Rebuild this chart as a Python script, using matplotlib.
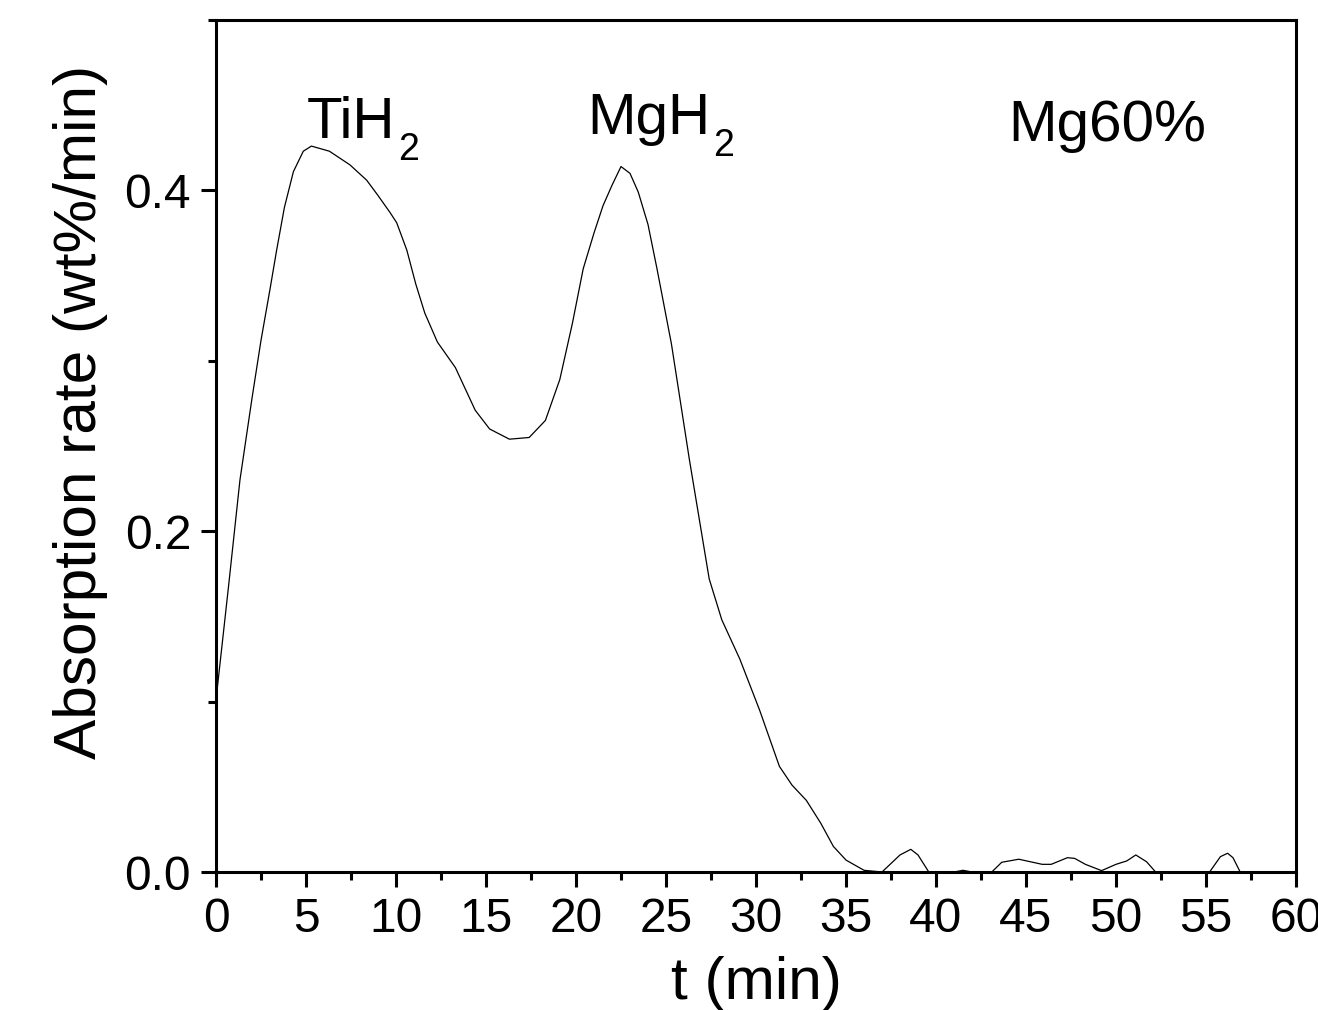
import matplotlib
matplotlib.use("Agg")
import matplotlib.pyplot as plt
from matplotlib.ticker import MultipleLocator

plt.rcParams['font.family'] = ['Liberation Sans', 'DejaVu Sans']

# data
t_min = [0, 0.7, 1.33, 2.0, 2.5, 3.0, 3.37, 3.8, 4.3, 4.85, 5.3, 6.3, 7.44, 8.37,
         9.0, 9.67, 10.04, 10.6, 11.1, 11.6, 12.3, 13.3, 14.4, 15.2, 16.3, 17.4,
         18.3, 19.1, 19.8, 20.4, 21.0, 21.5, 22.0, 22.5, 23.0, 23.46, 24.0, 24.5,
         25.3, 26.3, 27.4, 28.1, 29.1, 30.2, 31.3, 32.0, 32.8, 33.6, 34.3, 35.0,
         36.0, 37.0, 37.4, 38.0, 38.6, 39.0, 39.6, 41.0, 41.5, 42.0, 43.1, 43.65,
         44.6, 45.9, 46.4, 47.3, 47.7, 48.3, 49.2, 50.0, 50.6, 51.1, 51.7, 52.2,
         55.2, 55.8, 56.2, 56.5, 56.9, 60]
rate = [0.101, 0.168, 0.230, 0.278, 0.312, 0.342, 0.365, 0.390, 0.411, 0.423, 0.426,
        0.423, 0.415, 0.406, 0.397, 0.387, 0.381, 0.365, 0.345, 0.328, 0.311, 0.296,
        0.271, 0.260, 0.254, 0.255, 0.265, 0.289, 0.322, 0.354, 0.375, 0.391, 0.403,
        0.414, 0.410, 0.399, 0.380, 0.354, 0.310, 0.242, 0.172, 0.148, 0.125, 0.095,
        0.062, 0.051, 0.042, 0.0286, 0.015, 0.007, 0.001, 0.0, 0.004, 0.010, 0.0133,
        0.010, 0.0, 0.0, 0.001, 0.0, 0.0, 0.0057, 0.0075, 0.0045, 0.0045, 0.0084,
        0.008, 0.0045, 0.0008, 0.0045, 0.0065, 0.010, 0.006, 0.0, 0.0, 0.009, 0.011,
        0.0084, 0.0, 0.0]

x_ticks = [0, 5, 10, 15, 20, 25, 30, 35, 40, 45, 50, 55, 60]
y_ticks = [0.0, 0.2, 0.4]

labels = [("TiH", "2", 5.05, 0.431), ("MgH", "2", 20.6, 0.433), ("Mg60%", "", 44.0, 0.429)]

fig = plt.figure(figsize=(13.18, 10.10), dpi=100)
ax = fig.add_axes([216/1318, 1-872/1010, (1296-216)/1318, (872-20)/1010])

ax.plot(t_min, rate, color='black', lw=0.9)
ax.set_xlim(0, 60)
ax.set_ylim(0, 0.5)
ax.set_xticks(x_ticks)
ax.set_xticklabels([str(v) for v in x_ticks])
ax.set_yticks(y_ticks)
ax.set_yticklabels([f"{v:.1f}" for v in y_ticks])
ax.xaxis.set_minor_locator(MultipleLocator(2.5))
ax.yaxis.set_minor_locator(MultipleLocator(0.1))

for s in ax.spines.values():
    s.set_linewidth(2.2)
ax.tick_params(which='major', direction='out', length=11, width=2.2, labelsize=34.5, pad=7)
ax.tick_params(which='minor', direction='out', length=5.5, width=2.2)
ax.tick_params(top=False, right=False, which='both')

ax.set_xlabel("t (min)", fontsize=43.5, labelpad=10)
ax.set_ylabel("Absorption rate (wt%/min)", fontsize=43.5)
ax.yaxis.set_label_coords(-0.100, 0.54)

for main, sub, xx, yy in labels:
    tx = ax.text(xx, yy, main, fontsize=42, ha='left', va='baseline')
    if sub:
        ax.annotate(sub, xy=(1, 0), xycoords=tx, xytext=(3, -10),
                    textcoords='offset pixels', fontsize=27, ha='left', va='baseline')

fig.savefig("out.png", dpi=100)
